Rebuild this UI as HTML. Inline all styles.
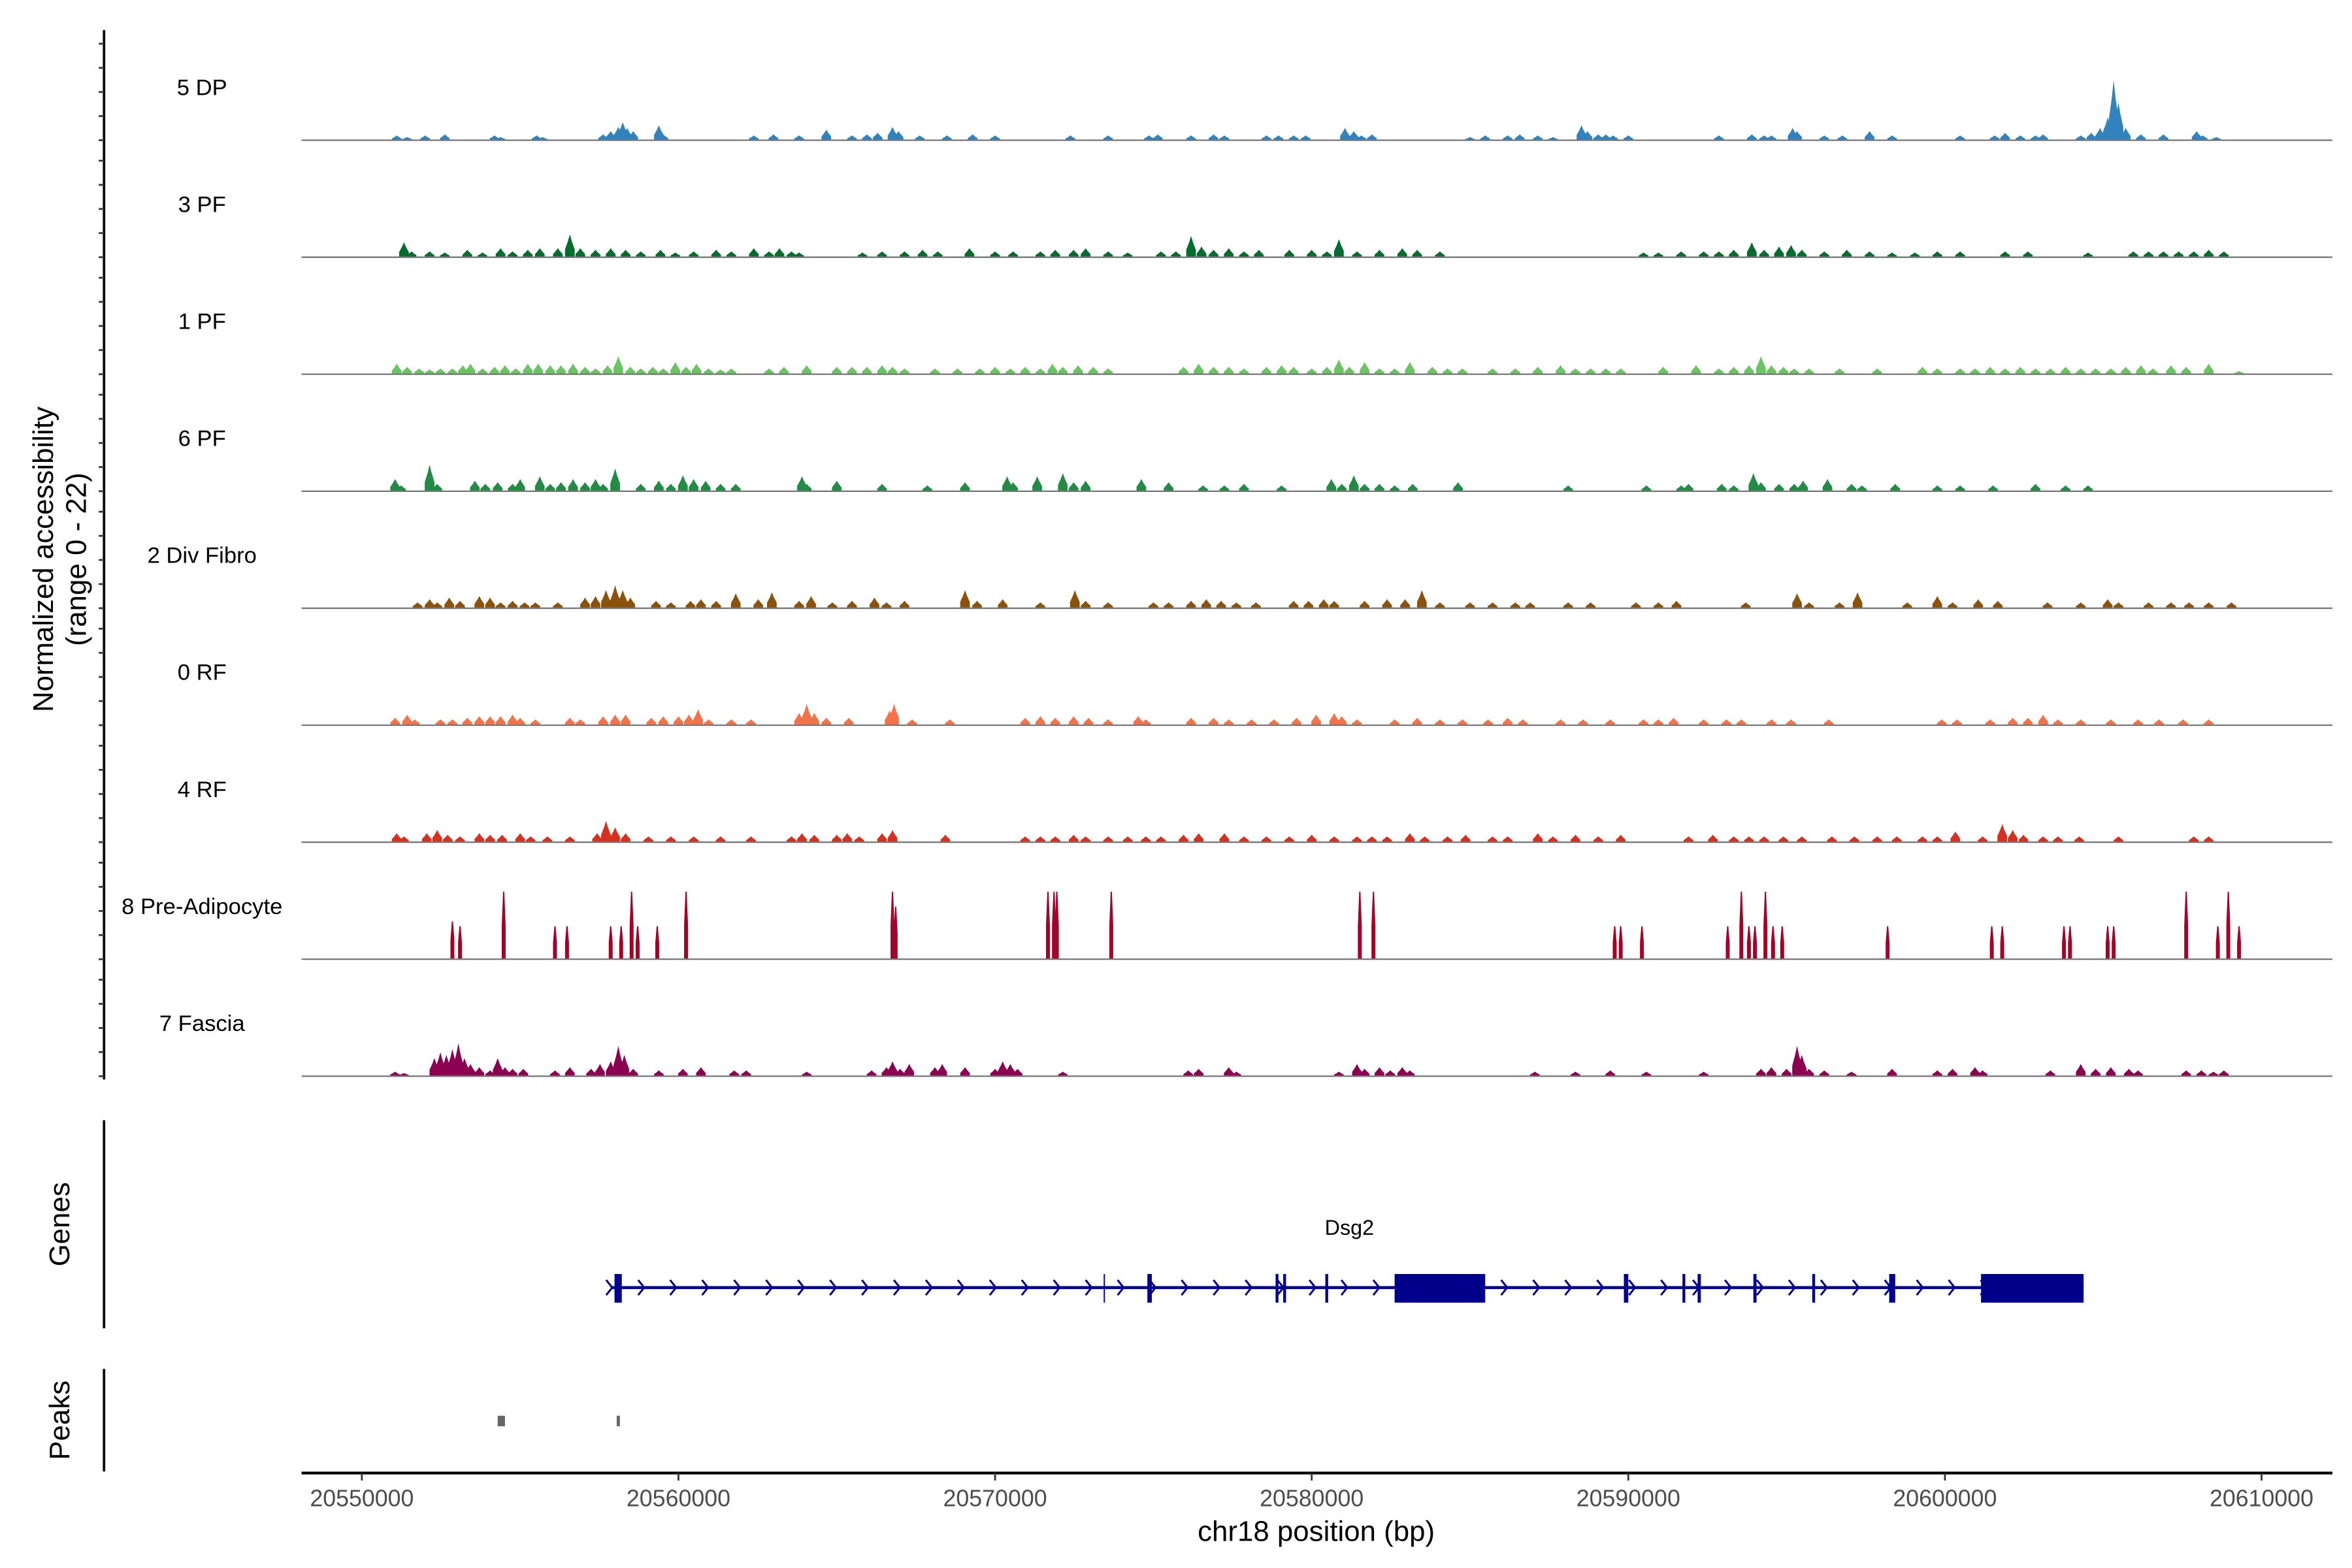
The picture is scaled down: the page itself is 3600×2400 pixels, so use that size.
<!DOCTYPE html>
<html><head><meta charset="utf-8"><style>
html,body{margin:0;padding:0;background:#fff;}
svg{display:block;font-family:"Liberation Sans",Arial,sans-serif;}
</style></head><body>
<svg id="chart" xmlns="http://www.w3.org/2000/svg" width="3600" height="2400" viewBox="0 0 1560 1040">
<rect x="0" y="0" width="1560" height="1040" fill="#fff"/>
<g id="tracks"></g>
<g id="genes"></g>
<g id="peaks"></g>
<g id="axes"></g>
<text x="0" y="0" transform="translate(35,371) rotate(-90)" text-anchor="middle" font-size="19" fill="#000">Normalized accessibility</text>
<text x="0" y="0" transform="translate(57,371) rotate(-90)" text-anchor="middle" font-size="19" fill="#000">(range 0 - 22)</text>
<text x="0" y="0" transform="translate(46,812) rotate(-90)" text-anchor="middle" font-size="19" fill="#000">Genes</text>
<text x="0" y="0" transform="translate(46,942) rotate(-90)" text-anchor="middle" font-size="19" fill="#000">Peaks</text>
<text x="873" y="1022" text-anchor="middle" font-size="19" fill="#000">chr18 position (bp)</text>
</svg>
<script>
// region start (bp); positions below are kb offsets from it
const regionStart = 20550000;
const xTicks = [20550000, 20560000, 20570000, 20580000, 20590000, 20600000, 20610000];
const trackNames = ["5 DP","3 PF","1 PF","6 PF","2 Div Fibro","0 RF","4 RF","8 Pre-Adipocyte","7 Fascia"];
const trackColors = ["#3182bd","#006d2c","#6cc364","#238b45","#8c510a","#f4734a","#d7301f","#a50026","#8b0050"];
const yMax = 22;

const dpPos = [1.1,1.43,2.0,2.62,4.19,4.38,5.52,5.71,7.62,7.86,8.1,8.24,8.38,8.57,9.38,9.52,12.38,13.0,13.81,14.67,15.48,15.95,16.29,16.76,16.95,17.62,18.48,19.29,20.0,22.38,23.57,24.86,25.14,26.19,26.9,27.24,28.57,28.95,29.43,29.81,31.05,31.33,31.57,31.9,35.0,35.48,36.19,36.57,37.14,37.62,38.52,38.71,39.05,39.29,39.52,40.0,42.86,43.9,44.29,44.52,45.19,45.33,46.19,46.76,47.62,48.33,50.48,51.57,51.9,52.38,52.86,53.1,54.29,54.62,54.9,55.14,55.33,55.48,55.71,56.19,56.9,57.95,58.14,58.57];
const dpVal = [0.9,0.6,0.9,1.1,0.9,0.6,0.9,0.6,1.1,1.7,2.5,3.4,2.3,1.7,2.8,1.1,0.9,1.1,0.9,2.0,0.9,1.1,1.4,2.5,1.7,0.9,0.9,1.1,0.9,0.9,0.9,0.9,1.1,0.9,1.1,0.9,0.9,0.9,0.9,0.9,2.3,1.7,0.9,1.1,0.6,0.9,0.9,1.1,0.9,0.6,2.8,1.7,1.1,1.1,0.9,0.9,0.9,1.1,0.9,0.9,2.3,1.7,0.9,0.9,1.7,0.9,0.9,0.9,1.4,0.9,0.9,1.1,0.9,1.4,2.3,4.3,11.3,7.1,2.3,1.1,1.1,1.7,0.9,0.6];

const pf3Pos = [1.33,1.57,2.14,2.62,3.33,3.81,4.38,4.76,5.24,5.62,6.19,6.57,6.9,7.38,7.86,8.33,8.81,9.43,9.9,10.48,11.19,11.67,12.38,12.86,13.19,13.57,13.81,15.81,16.43,17.14,17.71,18.19,19.19,20.0,20.57,21.43,21.9,22.48,22.86,23.57,24.19,25.24,25.71,26.19,26.52,26.9,27.38,27.86,28.33,29.29,30.0,30.48,30.86,31.43,32.14,32.86,33.33,34.05,40.48,40.95,41.67,42.38,42.86,43.33,43.9,44.29,44.76,45.14,45.48,46.19,46.9,47.62,48.33,49.05,49.76,50.48,51.9,52.62,54.52,55.95,56.43,56.9,57.38,57.86,58.33,58.81];
const pf3Val = [2.8,1.1,1.1,0.9,1.4,0.9,1.7,1.1,1.4,1.7,1.7,4.3,1.7,1.4,1.7,1.4,1.1,1.4,0.9,1.1,1.4,1.1,1.7,1.1,1.7,1.1,0.9,0.9,1.1,1.1,1.4,1.1,1.7,1.1,1.1,1.1,1.4,1.4,1.7,1.1,0.9,1.1,1.1,4.0,2.0,1.4,1.7,1.1,1.4,1.4,1.4,1.1,3.4,1.1,1.4,1.7,1.4,1.1,0.9,0.9,1.1,1.1,1.1,1.4,2.8,1.4,2.0,2.3,1.4,1.1,1.4,1.1,0.9,0.9,1.1,1.1,1.1,1.1,0.9,1.1,1.1,1.1,1.1,1.1,1.4,1.1];

const pf1Pos = [1.1,1.43,1.81,2.14,2.48,2.86,3.19,3.43,3.81,4.19,4.52,4.86,5.24,5.57,5.95,6.29,6.67,7.05,7.38,7.76,8.1,8.48,8.81,9.19,9.52,9.9,10.24,10.57,10.95,11.33,11.67,12.86,13.33,14.05,15.0,15.48,15.95,16.43,16.76,17.14,18.1,18.81,19.52,20.0,20.48,20.95,21.43,21.81,22.14,22.62,23.1,23.57,25.95,26.43,26.9,27.38,27.86,28.57,29.05,29.43,30.0,30.48,30.86,31.19,31.67,32.14,32.62,33.1,33.81,34.29,34.76,35.71,36.43,37.14,37.86,38.33,38.81,39.29,39.76,41.1,42.14,42.86,43.33,43.81,44.19,44.52,44.9,45.24,45.71,46.67,47.86,49.29,49.76,50.48,50.95,51.43,51.9,52.38,52.86,53.33,53.81,54.29,54.76,55.24,55.71,56.19,56.57,57.14,57.62,58.33,59.29];
const pf1Val = [2.0,1.4,1.1,0.9,1.1,1.1,1.7,2.0,1.1,1.4,1.7,1.1,2.0,2.0,1.7,1.7,2.0,1.4,1.1,1.7,3.4,1.4,1.1,1.4,1.1,2.3,1.4,2.0,1.1,0.9,1.1,1.1,1.4,1.7,1.4,1.4,1.4,1.7,1.4,1.1,1.1,1.1,1.1,1.4,1.1,1.4,1.1,2.0,1.4,1.7,1.4,1.1,1.4,2.0,1.4,1.4,1.1,1.4,1.7,1.4,1.1,1.4,2.8,1.4,2.3,1.1,1.1,2.3,1.4,1.1,1.1,1.1,1.1,1.4,1.7,1.1,1.1,1.1,1.1,1.4,1.7,1.1,1.4,1.7,3.4,1.7,1.4,1.1,1.1,1.1,1.1,1.4,1.1,1.1,1.1,1.4,1.1,1.4,1.1,1.1,1.4,1.1,1.1,1.1,1.4,1.7,1.1,1.7,1.4,2.0,0.6];

const pf6Pos = [1.05,1.24,2.14,2.38,3.57,3.9,4.29,4.76,5.0,5.62,5.95,6.29,6.67,7.05,7.38,7.62,8.0,8.81,9.38,9.76,10.14,10.48,10.86,11.33,11.81,13.9,14.05,15.0,16.43,17.86,19.05,20.38,20.57,21.33,22.14,22.48,22.86,24.62,25.48,26.57,27.24,27.86,29.05,30.62,30.95,31.33,31.67,32.14,32.62,33.19,34.62,38.1,40.57,41.67,41.9,42.95,43.33,43.95,44.19,44.76,45.24,45.52,46.29,47.05,47.38,48.43,49.76,50.48,51.52,52.86,53.81,54.52];
const pf6Val = [2.3,1.1,5.0,1.4,2.0,1.4,1.7,1.4,2.3,2.8,1.4,1.7,2.3,1.7,2.3,1.4,4.3,1.4,2.0,1.4,3.0,2.3,2.0,1.4,1.4,2.8,1.4,2.0,1.4,1.1,1.7,2.8,1.7,2.8,3.4,1.7,2.0,2.3,1.7,1.1,1.1,1.4,1.1,2.3,1.4,3.0,1.4,1.4,1.1,1.4,1.7,1.1,1.1,1.1,1.4,1.4,1.1,3.4,1.7,1.4,1.4,2.0,2.3,1.4,1.1,1.4,1.1,1.1,1.1,1.4,1.1,1.1];

const divPos = [1.76,2.14,2.38,2.76,3.1,3.71,4.05,4.38,4.76,5.14,5.48,6.19,7.05,7.38,7.71,8.0,8.24,8.48,9.29,9.76,10.38,10.71,11.19,11.81,12.52,12.95,13.81,14.19,14.86,15.48,16.19,16.57,17.14,19.05,19.43,20.24,21.43,22.52,22.86,23.57,25.0,25.48,26.19,26.67,27.14,27.62,28.24,29.43,29.9,30.38,30.71,31.67,32.38,32.95,33.48,34.05,35.0,35.71,36.43,36.9,38.1,38.81,40.24,40.95,41.52,43.71,45.33,45.71,46.67,47.24,48.81,49.76,50.24,51.05,51.67,53.24,54.29,55.14,55.48,56.43,57.14,57.71,58.33,59.05];
const divVal = [1.1,1.7,1.1,2.0,1.4,2.3,2.0,1.1,1.4,1.1,1.1,1.1,2.0,2.3,3.4,4.3,3.4,2.0,1.4,1.1,1.4,1.7,1.4,2.8,1.7,3.0,1.4,2.3,1.1,1.4,2.0,1.1,1.4,3.4,1.4,1.7,1.1,3.4,1.4,1.1,1.1,1.1,1.4,1.7,1.4,1.1,1.1,1.4,1.4,1.7,1.4,1.4,1.7,1.7,3.4,1.1,1.1,1.1,1.1,1.1,1.1,1.1,1.1,1.1,1.4,1.1,2.8,1.1,1.1,3.0,1.1,2.3,1.1,1.7,1.4,1.1,1.1,1.7,1.1,1.1,1.1,1.1,1.1,1.1];

const rf0Pos = [1.05,1.43,1.67,2.48,2.86,3.33,3.71,4.05,4.38,4.76,5.0,5.48,6.57,6.9,7.62,8.0,8.33,9.14,9.52,10.0,10.33,10.62,10.95,11.67,12.29,13.81,14.05,14.29,14.67,15.38,16.67,16.81,17.38,18.57,20.95,21.43,21.9,22.48,22.95,23.57,24.52,24.76,26.19,26.9,27.38,28.1,28.81,29.52,30.14,30.71,30.95,31.43,32.62,33.33,34.05,34.76,35.57,36.19,36.67,37.86,38.57,39.43,40.48,40.95,41.43,42.38,43.1,43.57,44.52,45.14,46.33,49.9,50.38,51.43,52.14,52.62,53.1,53.57,54.29,55.24,56.1,56.76,57.52,58.33];
const rf0Val = [1.4,2.0,1.1,1.1,1.1,1.4,1.7,1.7,1.7,2.0,1.4,1.1,1.4,1.1,1.7,2.0,2.0,1.4,1.7,1.7,2.0,3.0,1.1,1.1,1.1,2.3,4.0,2.3,1.4,1.4,2.8,4.0,1.1,1.1,1.4,1.7,1.4,1.7,1.4,1.1,1.7,1.1,1.4,1.4,1.1,1.1,1.1,1.4,2.0,2.3,1.7,1.1,1.1,1.4,1.1,1.1,1.1,1.4,1.1,1.1,1.1,1.1,1.1,1.1,1.4,1.1,1.1,1.1,1.1,1.1,1.1,1.1,1.1,1.1,1.4,1.4,2.0,1.1,1.1,1.1,1.1,1.1,1.1,1.1];

const rf4Pos = [1.1,1.33,2.05,2.38,2.71,3.1,3.71,4.05,4.43,5.0,5.33,5.86,6.57,7.43,7.71,8.0,8.33,9.05,9.76,10.48,11.33,12.29,13.57,13.9,14.29,15.0,15.33,15.71,16.43,16.76,18.43,20.95,21.43,21.9,22.48,22.86,23.57,24.19,24.76,25.24,25.95,26.43,27.24,27.86,28.57,29.29,30.0,30.71,31.43,31.9,32.38,33.1,33.57,34.29,34.86,35.71,36.19,37.14,37.62,38.33,39.05,39.76,41.9,42.67,43.33,43.81,44.29,44.9,45.48,46.43,47.14,47.86,48.48,49.29,49.76,50.33,51.19,51.81,52.14,52.48,53.1,53.57,54.24,55.48,57.86,58.33];
const rf4Val = [1.7,1.1,1.7,2.3,1.4,1.1,1.7,1.4,1.4,1.7,1.1,1.1,1.1,1.7,4.0,2.8,1.7,1.1,1.1,1.1,1.1,1.1,1.1,1.7,1.4,1.4,1.7,1.1,1.7,2.3,1.4,1.1,1.1,1.1,1.4,1.1,1.1,1.1,1.1,1.1,1.4,1.7,1.7,1.1,1.1,1.1,1.4,1.1,1.1,1.1,1.1,1.7,1.1,1.1,1.4,1.1,1.1,1.7,1.1,1.4,1.1,1.4,1.1,1.4,1.1,1.1,1.1,1.1,1.1,1.1,1.1,1.1,1.1,1.1,1.1,2.0,1.1,3.4,2.3,1.4,1.1,1.1,1.1,1.1,1.1,1.1];

const preadPos = [2.86,3.1,4.48,6.1,6.48,7.86,8.19,8.52,8.71,9.33,10.24,16.76,16.86,21.67,21.86,21.95,23.67,31.52,31.95,39.57,39.76,40.43,43.14,43.57,43.81,44.0,44.33,44.57,44.86,48.19,51.48,51.81,53.76,53.95,55.14,55.33,57.62,58.62,58.95,59.29];
const preadVal = [7.1,6.2,12.7,6.2,6.2,6.2,6.2,12.7,6.2,6.2,12.7,12.7,9.9,12.7,12.7,12.7,12.7,12.7,12.7,6.2,6.2,6.2,6.2,12.7,6.2,6.2,12.7,6.2,6.2,6.2,6.2,6.2,6.2,6.2,6.2,6.2,12.7,6.2,12.7,6.2];

const fasPos = [1.05,1.33,2.29,2.48,2.67,2.86,3.05,3.24,3.43,3.71,4.05,4.29,4.52,4.76,5.1,6.1,6.57,7.24,7.52,7.86,8.1,8.29,8.57,9.38,10.14,10.71,11.76,12.14,14.05,16.1,16.57,16.76,17.0,17.29,18.1,18.33,19.05,20.0,20.24,20.48,20.71,22.14,26.1,26.43,27.38,27.62,30.86,31.43,31.67,32.14,32.48,32.86,33.1,37.05,38.33,39.43,40.57,42.38,44.19,44.52,45.0,45.33,45.48,45.71,46.19,47.05,48.33,49.76,50.24,50.95,51.19,53.33,54.29,54.76,55.24,55.81,56.1,57.62,58.1,58.48,58.81];
const fasVal = [0.85,0.6,3.4,4.5,4.0,5.1,6.2,3.4,2.3,1.7,1.1,3.4,1.7,1.4,1.4,1.1,1.7,1.4,2.3,2.8,5.7,4.0,1.4,1.1,1.4,1.7,1.1,1.1,0.85,1.1,1.7,2.8,1.4,2.3,1.7,2.3,1.7,1.4,2.8,2.3,1.4,0.85,1.1,1.4,1.7,0.85,0.85,2.3,1.4,1.7,1.1,1.7,1.1,0.85,0.85,1.1,0.85,0.85,1.4,1.7,1.4,5.7,4.0,1.4,1.1,0.85,1.4,1.1,1.4,1.7,1.1,1.1,2.3,1.4,1.7,1.4,1.1,1.1,1.1,0.85,1.1];

const trackPos = [dpPos,pf3Pos,pf1Pos,pf6Pos,divPos,rf0Pos,rf4Pos,preadPos,fasPos];
const trackVal = [dpVal,pf3Val,pf1Val,pf6Val,divVal,rf0Val,rf4Val,preadVal,fasVal];

// gene Dsg2 (kb offsets)
const geneStart = 7.86, geneEnd = 54.38;
const exonStarts = [7.98,23.43,24.81,28.86,29.1,30.43,32.62,39.86,41.71,42.19,43.95,45.81,48.24,51.14];
const exonEnds   = [8.21,23.47,24.95,28.95,29.19,30.52,35.48,40.0,41.8,42.29,44.05,45.9,48.43,54.38];
const peakStarts = [4.29,8.05];
const peakEnds   = [4.52,8.15];

const NS = "http://www.w3.org/2000/svg";
const plotL = 200, plotR = 1547;
const xScale = kb => 240 + kb * 21;          // kb offset -> px
const xBp = bp => xScale((bp - regionStart) / 1000);
const trackH = 77.6, firstBase = 93;
const baseY = i => firstBase + i * trackH;
const yScale = v => v / yMax * trackH;

function mk(tag, attrs, parent){
  const e = document.createElementNS(NS, tag);
  for (const k in attrs) e.setAttribute(k, attrs[k]);
  parent.appendChild(e);
  return e;
}

const gT = document.getElementById('tracks');
trackNames.forEach((name, i) => {
  const b = baseY(i);
  const g = mk('g', {}, gT);
  
  
  const lbl = mk('text', {x:134, y:b-34, 'text-anchor':'middle', 'dominant-baseline':'middle', 'font-size':15, fill:'#000'}, g);
  lbl.textContent = name;
  
  
  const pos = trackPos[i], val = trackVal[i];
  const spike = (name === "8 Pre-Adipocyte");
  let d = "";
  for (let j = 0; j < pos.length; j++) {
    const x = xScale(pos[j]), h = yScale(val[j]);
    if (spike) {
      const w = 1.3;
      d += `M${x-w},${b}L${x-w},${b-h*0.5}L${x-0.4},${b-h}L${x+0.4},${b-h}L${x+w},${b-h*0.5}L${x+w},${b}Z`;
    } else {
      const w = 3.2;
      d += `M${x-w},${b}L${x-w},${b-h*0.35}L${x-w*0.4},${b-h*0.7}L${x},${b-h}L${x+w*0.4},${b-h*0.7}L${x+w},${b-h*0.35}L${x+w},${b}Z`;
    }
  }
  const p = mk('path', {d:d, fill:trackColors[i]}, g);
  
  
  const bl = mk('line', {x1:plotL, x2:plotR, y1:b, y2:b, stroke:'#777', 'stroke-width':1}, g);
  
  
});

// gene track
const gG = document.getElementById('genes');
const gy = 854;
const gl = mk('line', {x1:xScale(geneStart), x2:xScale(geneEnd), y1:gy, y2:gy, stroke:'#00008b', 'stroke-width':2}, gG);


let cd = "";
for (let x = xScale(geneStart); x < xScale(geneEnd) - 4; x += 21.2) {
  cd += `M${x-3},${gy-5}L${x+1},${gy}L${x-3},${gy+5}`;
}
const ch = mk('path', {d:cd, fill:'none', stroke:'#00008b', 'stroke-width':1.3}, gG);


for (let j = 0; j < exonStarts.length; j++) {
  const x1 = xScale(exonStarts[j]), x2 = xScale(exonEnds[j]);
  const r = mk('rect', {x:x1, y:845, width:Math.max(x2-x1, 0.8), height:19, fill:'#00008b'}, gG);
  
  
}
const gn = mk('text', {x:895, y:819, 'text-anchor':'middle', 'font-size':14, fill:'#000'}, gG);
gn.textContent = 'Dsg2';



// peaks
const gP = document.getElementById('peaks');
for (let j = 0; j < peakStarts.length; j++) {
  const x1 = xScale(peakStarts[j]), x2 = xScale(peakEnds[j]);
  const r = mk('rect', {x:x1, y:939, width:x2-x1, height:7, fill:'#666'}, gP);
  
  
}

// axes
const gA = document.getElementById('axes');
const axisSegs = [[20,716],[743,881],[908,976]];
axisSegs.forEach(s => {
  const l = mk('line', {x1:69, x2:69, y1:s[0], y2:s[1], stroke:'#000', 'stroke-width':1.6}, gA);
  
  
});
for (let i = 0; i < trackNames.length; i++) {
  for (let k = 0; k < 5; k++) {
    const y = baseY(i) - k * 16;
    const t = mk('line', {x1:65.5, x2:69, y1:y, y2:y, stroke:'#333', 'stroke-width':1.2}, gA);
    
    
  }
}
const xl = mk('line', {x1:plotL, x2:plotR, y1:977, y2:977, stroke:'#000', 'stroke-width':1.8}, gA);


xTicks.forEach(v => {
  const x = xBp(v);
  const t = mk('line', {x1:x, x2:x, y1:977, y2:982, stroke:'#333', 'stroke-width':1.2}, gA);
  
  
  const tl = mk('text', {x:x, y:999, 'text-anchor':'middle', 'font-size':15.5, fill:'#4d4d4d'}, gA);
  tl.textContent = String(v);
  
  
});
</script>
</body></html>
